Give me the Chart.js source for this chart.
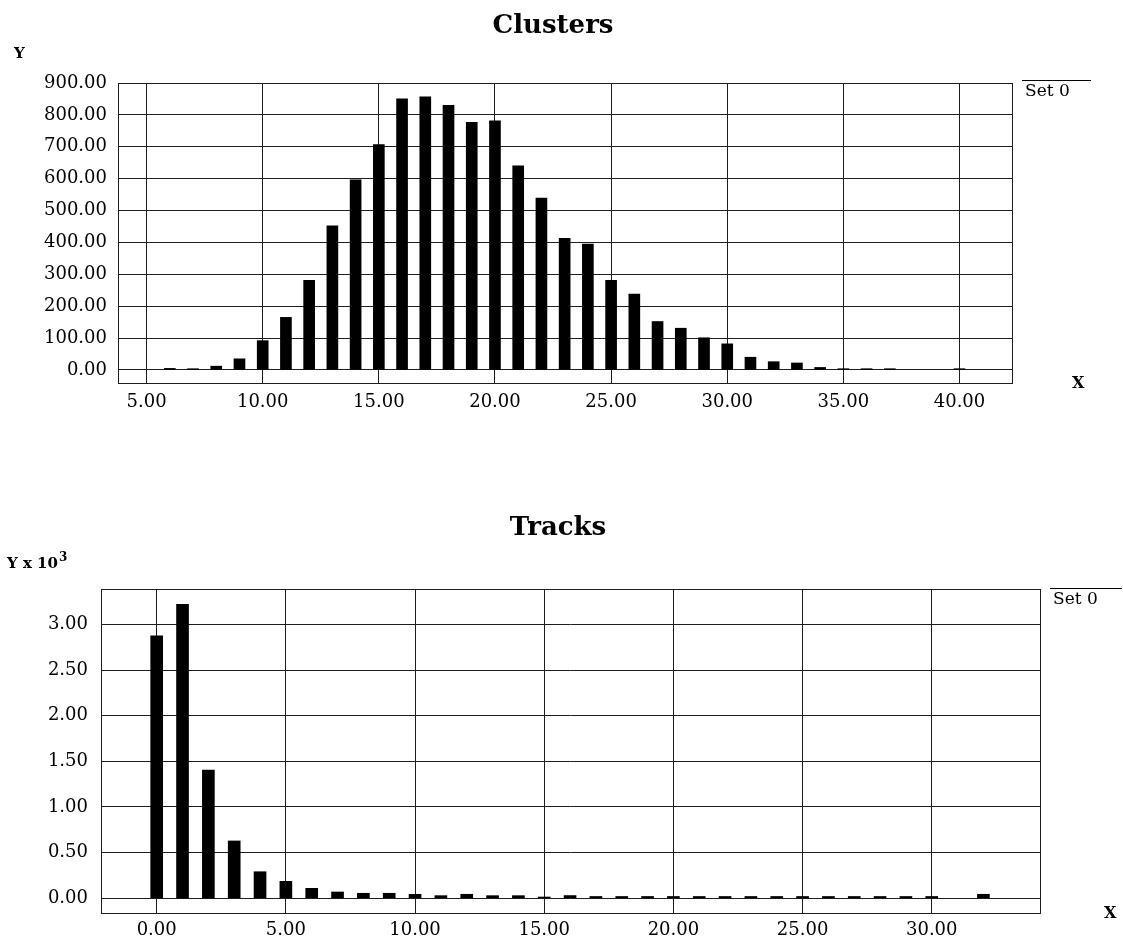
<!DOCTYPE html>
<html>
<head>
<meta charset="utf-8">
<title>Clusters / Tracks</title>
<script src="https://cdn.jsdelivr.net/npm/chart.js@4.4.1/dist/chart.umd.min.js"></script>
<style>
  html, body { margin: 0; padding: 0; background: #fff; }
  #wrap { position: relative; width: 1123px; height: 948px; }
  #wrap canvas { position: absolute; left: 0; top: 0; }
</style>
</head>
<body>
<div id="wrap">
  <canvas id="clusters" width="1123" height="948"></canvas>
  <canvas id="tracks" width="1123" height="948"></canvas>
</div>
<script>
// --- DATA: CLUSTERS (bins 38 and 39 are empty) ---
const clusterBins   = [6, 7, 8, 9, 10, 11, 12, 13, 14, 15, 16, 17, 18, 19, 20, 21, 22, 23, 24, 25, 26, 27, 28, 29, 30, 31, 32, 33, 34, 35, 36, 37, 40];
const clusterCounts = [5, 4, 12, 35, 92, 165, 281, 452, 596, 707, 850, 857, 830, 777, 781, 640, 539, 413, 395, 281, 238, 152, 131, 101, 82, 40, 26, 22, 8, 4, 4, 4, 4];
const clusterXTicks = [5, 10, 15, 20, 25, 30, 35, 40];
const clusterYTicks = [0, 100, 200, 300, 400, 500, 600, 700, 800, 900];

// --- DATA: TRACKS (Y in units of 10^3, bin 31 is empty) ---
const trackBins   = [0, 1, 2, 3, 4, 5, 6, 7, 8, 9, 10, 11, 12, 13, 14, 15, 16, 17, 18, 19, 20, 21, 22, 23, 24, 25, 26, 27, 28, 29, 30, 32];
const trackCounts = [2.873, 3.22, 1.405, 0.628, 0.291, 0.186, 0.109, 0.069, 0.055, 0.055, 0.044, 0.029, 0.044, 0.029, 0.029, 0.014, 0.03,
                     0.02, 0.02, 0.02, 0.02, 0.02, 0.02, 0.02, 0.02, 0.02, 0.02, 0.02, 0.02, 0.02, 0.02, 0.044];
const trackXTicks = [0, 5, 10, 15, 20, 25, 30];
const trackYTicks = [0, 0.5, 1, 1.5, 2, 2.5, 3];

const SERIF = '"DejaVu Serif", "Liberation Serif", serif';
const GRID = '#1e1e1e';

Chart.defaults.font.family = SERIF;
Chart.defaults.font.size = 18;
Chart.defaults.color = '#000';

// titles, axis letters, box and the "Set 0" key
function decor(o) {
  return {
    id: 'decor',
    afterDraw(chart) {
      const c = chart.ctx, a = chart.chartArea;
      c.save();
      c.strokeStyle = GRID; c.lineWidth = 1;
      c.strokeRect(Math.round(a.left) + 0.5, Math.round(a.top) + 0.5, Math.round(a.right - a.left), Math.round(a.bottom - a.top));

      c.fillStyle = '#000'; c.textBaseline = 'alphabetic';
      c.font = 'bold 26px ' + SERIF; c.textAlign = 'center';
      c.fillText(o.title, o.titleX, o.titleY);

      c.textAlign = 'left';
      c.font = 'bold 15px ' + SERIF;
      c.fillText(o.yLabel, o.yLabelX, o.yLabelY);
      if (o.yExp) {
        const w = c.measureText(o.yLabel).width;
        c.font = 'bold 12px ' + SERIF;
        c.fillText(o.yExp, o.yLabelX + w + 1, o.yLabelY - 7);
      }
      c.font = 'bold 16px ' + SERIF;
      c.fillText('X', o.xLabelX, o.xLabelY);

      // key
      c.beginPath(); c.moveTo(o.keyX, o.keyY + 0.5); c.lineTo(o.keyX + o.keyW, o.keyY + 0.5);
      c.strokeStyle = '#000'; c.lineWidth = 1; c.stroke();
      c.font = '17px ' + SERIF;
      c.fillText('Set 0', o.keyX + 3, o.keyY + 16);
      c.restore();
    }
  };
}

function makeChart(id, bins, counts, xTicks, yTicks, geo, deco) {
  return new Chart(document.getElementById(id), {
    type: 'bar',
    data: { datasets: [{ data: bins.map((b, i) => ({ x: b, y: counts[i] })), backgroundColor: '#000', borderWidth: 0, barThickness: geo.bar }] },
    options: {
      responsive: false, animation: false,
      layout: { padding: { top: geo.top, left: 0, right: 1123 - geo.right, bottom: 0 } },
      plugins: { legend: { display: false }, tooltip: { enabled: false }, title: { display: false } },
      scales: {
        x: {
          type: 'linear', min: geo.xMin, max: geo.xMax, offset: false,
          grid: { color: GRID, lineWidth: 1, drawTicks: false, offset: false },
          border: { display: false },
          ticks: { padding: geo.xPad, maxRotation: 0, autoSkip: false, callback: v => v.toFixed(2) },
          afterBuildTicks: s => { s.ticks = xTicks.map(v => ({ value: v })); },
          afterFit: s => { s.height = 948 - geo.bottom; }
        },
        y: {
          min: geo.yMin, max: geo.yMax,
          grid: { color: GRID, lineWidth: 1, drawTicks: false },
          border: { display: false },
          ticks: { padding: geo.yPad, autoSkip: false, callback: v => v.toFixed(2) },
          afterBuildTicks: s => { s.ticks = yTicks.map(v => ({ value: v })); },
          afterFit: s => { s.width = geo.left; }
        }
      }
    },
    plugins: [decor(deco)]
  });
}

makeChart('clusters', clusterBins, clusterCounts, clusterXTicks, clusterYTicks,
  { top: 83, left: 118, right: 1012, bottom: 383, xMin: 3.77, xMax: 42.26, yMin: -40.8, yMax: 900, bar: 11, xPad: 9, yPad: 11 },
  { title: 'Clusters', titleX: 553, titleY: 33, yLabel: 'Y', yLabelX: 14, yLabelY: 58, xLabelX: 1072, xLabelY: 388, keyX: 1022, keyY: 80, keyW: 69 });

makeChart('tracks', trackBins, trackCounts, trackXTicks, trackYTicks,
  { top: 589, left: 101, right: 1040, bottom: 913, xMin: -2.156, xMax: 34.19, yMin: -0.161, yMax: 3.387, bar: 12, xPad: 7, yPad: 13 },
  { title: 'Tracks', titleX: 558, titleY: 535, yLabel: 'Y x 10', yExp: '3', yLabelX: 7, yLabelY: 568, xLabelX: 1104, xLabelY: 918, keyX: 1050, keyY: 588, keyW: 72 });
</script>
</body>
</html>
